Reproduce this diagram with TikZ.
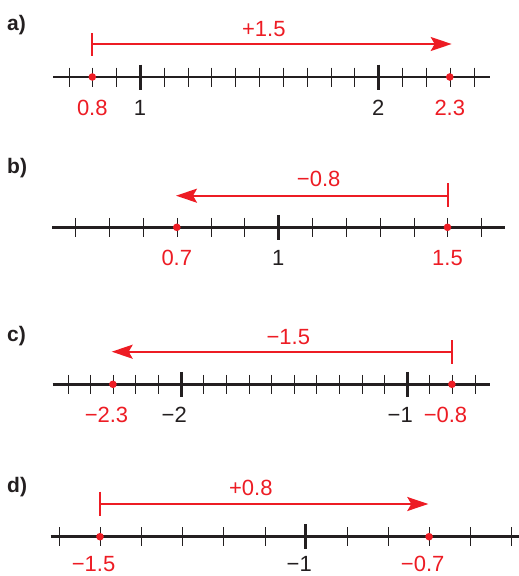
\documentclass[tikz,border=0pt]{standalone}
\usepackage{fontspec}
\setmainfont{Liberation Sans}
\usetikzlibrary{arrows.meta}
\definecolor{myred}{RGB}{237,28,36}
\definecolor{axisblack}{RGB}{35,31,32}
\begin{document}
\begin{tikzpicture}[x=1pt,y=-1pt,
  font=\fontsize{22}{26}\selectfont,
  axisline/.style={line width=2.6pt, draw=axisblack},
  minortick/.style={line width=1.3pt, draw=axisblack},
  majortick/.style={line width=2.6pt, draw=axisblack},
  dot/.style={circle, fill=myred, inner sep=0pt, minimum size=7.6pt},
  jump/.style={draw=myred, line width=2pt, -{Stealth[length=21pt,width=14pt,inset=4pt]}},
  startbar/.style={draw=myred, line width=2pt},
  numlbl/.style={anchor=base, inner sep=0pt, text=axisblack},
  redlbl/.style={anchor=base, inner sep=0pt, text=myred},
  panel/.style={anchor=base west, inner sep=0pt, text=axisblack, font=\fontsize{21}{25}\selectfont\bfseries}]
\useasboundingbox (0,0) rectangle (519,576);

% ---------- a) ----------
\node[panel] (pa) at (7,30) {a)};
\coordinate (aL) at (53,77);
\coordinate (aR) at (490,77);
\draw[axisline] (aL) -- (aR);
\foreach \i in {-3,...,14} \draw[minortick] ({round(140+\i*23.83)+0.5},67.5) -- ({round(140+\i*23.83)+0.5},86.5);
\foreach \i in {0,10} \draw[majortick] ({round(140+\i*23.83)+0.5},64.5) -- ({round(140+\i*23.83)+0.5},89.5);
\node[dot] (a1) at (92.3,77) {};
\node[dot] (a2) at (449.8,77) {};
\coordinate (as) at (92.3,44);
\coordinate (ae) at (451.7,44);
\draw[startbar] (92.3,33) -- (92.3,56);
\draw[jump] (as) -- (ae);
\node[redlbl] (al) at (263.8,36.7) {+1.5};
\node[redlbl] (a1l) at (92.3,115.5) {0.8};
\node[numlbl] (a1n) at (140,115.5) {1};
\node[numlbl] (a2n) at (378.3,115.5) {2};
\node[redlbl] (a2l) at (449.8,115.5) {2.3};

% ---------- b) ----------
\node[panel] (pb) at (7,173) {b)};
\coordinate (bL) at (52,227.3);
\coordinate (bR) at (505,227.3);
\draw[axisline] (bL) -- (bR);
\foreach \i in {-6,...,6} \draw[minortick] ({round(278.3+\i*33.83)+0.5},217.8) -- ({round(278.3+\i*33.83)+0.5},236.8);
\draw[majortick] (278.5,214.8) -- (278.5,239.8);
\node[dot] (b1) at (176.8,227.3) {};
\node[dot] (b2) at (447.5,227.3) {};
\coordinate (bs) at (447.5,195.7);
\coordinate (be) at (176,195.7);
\draw[startbar] (447.5,183.3) -- (447.5,206.7);
\draw[jump] (bs) -- (be);
\node[redlbl] (bl) at (318.7,186.7) {\char"2212 0.8};
\node[redlbl] (b1l) at (176.8,265.3) {0.7};
\node[numlbl] (b1n) at (278.3,265.3) {1};
\node[redlbl] (b2l) at (447.5,265.3) {1.5};

% ---------- c) ----------
\node[panel] (pc) at (7,341.5) {c)};
\coordinate (cL) at (52.7,384.3);
\coordinate (cR) at (490,384.3);
\draw[axisline] (cL) -- (cR);
\foreach \i in {-5,...,13} \draw[minortick] ({round(180.7+\i*22.6)+0.5},374.8) -- ({round(180.7+\i*22.6)+0.5},393.8);
\foreach \i in {0,10} \draw[majortick] ({round(180.7+\i*22.6)+0.5},371.8) -- ({round(180.7+\i*22.6)+0.5},396.8);
\node[dot] (c1) at (112.9,384.3) {};
\node[dot] (c2) at (451.9,384.3) {};
\coordinate (cs) at (451.9,351.7);
\coordinate (ce) at (111.7,351.7);
\draw[startbar] (451.9,340) -- (451.9,364);
\draw[jump] (cs) -- (ce);
\node[redlbl] (cl) at (288.3,344) {\char"2212 1.5};
\node[redlbl] (c1l) at (112.9,422.3) {\llap{\char"2212}2.3};
\node[numlbl] (c1n) at (180.7,422.3) {\llap{\char"2212}2};
\node[numlbl] (c2n) at (406.7,422.3) {\llap{\char"2212}1};
\node[redlbl] (c2l) at (451.9,422.3) {\llap{\char"2212}0.8};

% ---------- d) ----------
\node[panel] (pd) at (7,492.7) {d)};
\coordinate (dL) at (50.7,536.7);
\coordinate (dR) at (519,536.7);
\draw[axisline] (dL) -- (dR);
\foreach \i in {-6,...,5} \draw[minortick] ({round(305.7+\i*41.14)+0.5},527.2) -- ({round(305.7+\i*41.14)+0.5},546.2);
\draw[majortick] (305.5,524.2) -- (305.5,549.2);
\node[dot] (d1) at (100,536.7) {};
\node[dot] (d2) at (429.1,536.7) {};
\coordinate (ds) at (100,504);
\coordinate (de) at (428.3,504);
\draw[startbar] (100,491.7) -- (100,516);
\draw[jump] (ds) -- (de);
\node[redlbl] (dl) at (250.8,495) {+0.8};
\node[redlbl] (d1l) at (100,571) {\llap{\char"2212}1.5};
\node[numlbl] (d1n) at (305.7,571) {\llap{\char"2212}1};
\node[redlbl] (d2l) at (429.1,571) {\llap{\char"2212}0.7};
\end{tikzpicture}
\end{document}
